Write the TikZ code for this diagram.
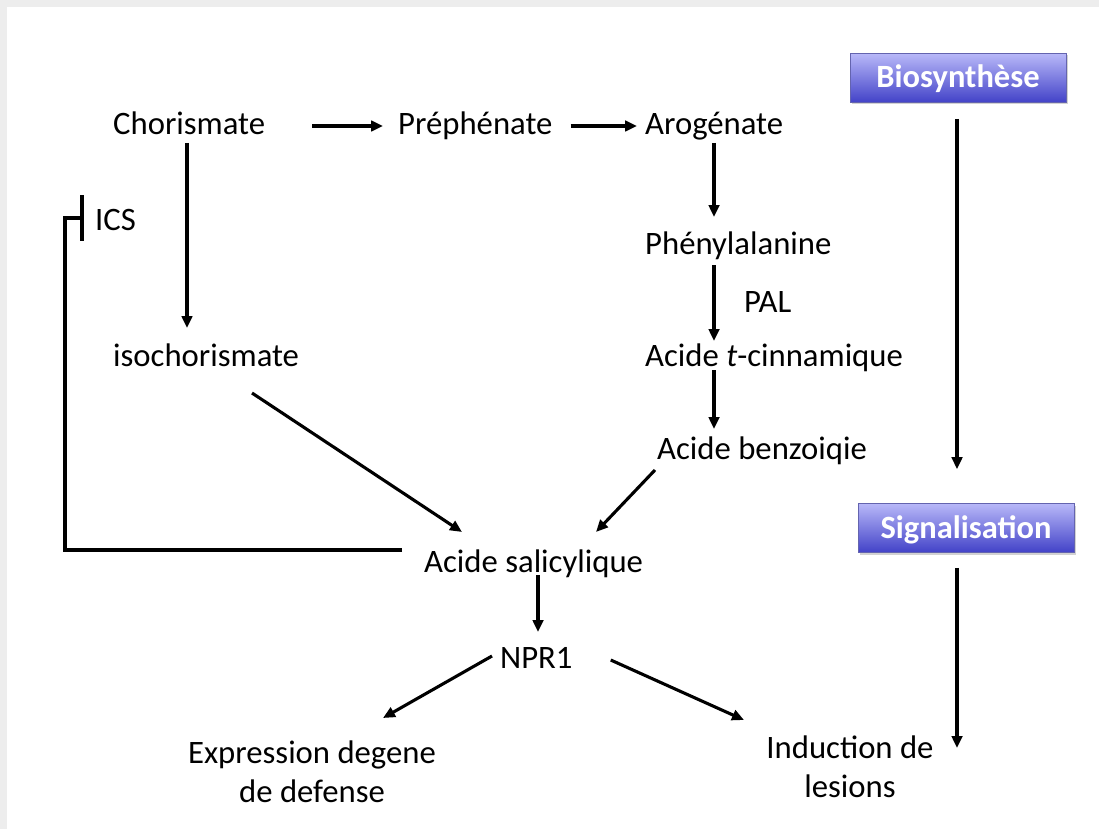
\documentclass[tikz,border=0pt]{standalone}
\usepackage{fontspec}
\setmainfont{Carlito}
\usetikzlibrary{arrows.meta,calc,shadows}
\definecolor{boxtop}{RGB}{184,184,248}
\definecolor{boxbot}{RGB}{66,66,200}
\definecolor{boxline}{RGB}{100,100,175}
\begin{document}
\begin{tikzpicture}[x=1pt,y=-1pt,
  lbl/.style={inner sep=0pt, anchor=base west, font=\fontsize{32.7}{38}\selectfont},
  twoline/.style={inner sep=0pt, anchor=north, align=center, font=\fontsize{32.7}{38.5}\selectfont},
  arr/.style={line width=3.1pt, -{Triangle[length=12pt,width=10.5pt]}},
  plain/.style={line width=3.1pt},
  hdr/.style={draw=boxline, line width=0.6pt, top color=boxtop, bottom color=boxbot,
     minimum width=216pt, minimum height=49pt, inner sep=0pt, text=white,
     text height=22pt, text depth=2pt,
     font=\fontsize{32.5}{38}\selectfont\bfseries,
     drop shadow={shadow xshift=1.5pt, shadow yshift=-2pt, opacity=0.35}}]
\useasboundingbox (0,0) rectangle (1099,829);
\fill[black!7] (0,0) rectangle (1099,829);
\fill[white] (7,7) rectangle (1099,829);
% nodes
\node[lbl] (chor) at (113,135) {Chorismate};
\node[lbl] (preph) at (398,135) {Préphénate};
\node[lbl] (arog) at (645,135) {Arogénate};
\node[lbl] (phen) at (645,254) {Phénylalanine};
\node[lbl] (pal) at (744,312) {PAL};
\node[lbl] (cinn) at (645,366) {Acide \textit{t}-cinnamique};
\node[lbl] (benz) at (657,459) {Acide benzoiqie};
\node[lbl] (iso) at (113,366) {isochorismate};
\node[lbl] (ics) at (95,230) {ICS};
\node[lbl] (sal) at (424,572) {Acide salicylique};
\node[lbl] (npr) at (500,668) {NPR1};
\node[twoline] (expr) at (312,741) {Expression degene\\de defense};
\node[twoline] (ind) at (850,736) {Induction de\\lesions};
\node[hdr] (bio) at (958,78) {Biosynthèse};
\node[hdr] (sig) at (966,528) {Signalisation};
\coordinate (sigend) at (957,748);
% arrows
\draw[arr] ($(chor.base east)+(47,-9)$) -- ($(preph.base west)+(-15,-9)$);
\draw[arr] ($(preph.base east)+(18,-9)$) -- ($(arog.base west)+(-8,-9)$);
\draw[arr] ($(chor.base west)+(74,8)$) -- ($(iso.base west)+(74,-38)$);
\draw[arr] ($(arog.base west)+(69,8)$) -- ($(phen.base west)+(69,-37)$);
\draw[arr] ($(phen.base west)+(69,11)$) -- ($(cinn.base west)+(69,-25)$);
\draw[arr] ($(cinn.base west)+(69,4)$) -- ($(benz.base west)+(57,-30)$);
\draw[arr] ($(iso.base west)+(139,27)$) -- ($(sal.base west)+(38,-40)$);
\draw[arr] ($(benz.base west)+(-2,11)$) -- ($(sal.base west)+(172,-40)$);
\draw[arr] ($(sal.base west)+(114,3)$) -- ($(npr.base west)+(38,-36)$);
\draw[arr] ($(npr.base west)+(-8,-12)$) -- ($(expr.north)+(71,-23)$);
\draw[arr] ($(npr.base east)+(38,-8)$) -- ($(ind.north)+(-106,-16)$);
\draw[arr] ($(bio.south)+(-1,16)$) -- ($(sig.north)+(-9,-34)$);
\draw[arr] ($(sig.south)+(-9,15)$) -- (sigend);
% inhibition
\draw[plain, -{Bar[width=46pt,line width=3.6pt]}]
  ($(sal.base west)+(-22,-22)$) -- ++(-337,0) |- ($(ics.base west)+(-11,-12)$);
\end{tikzpicture}
\end{document}
